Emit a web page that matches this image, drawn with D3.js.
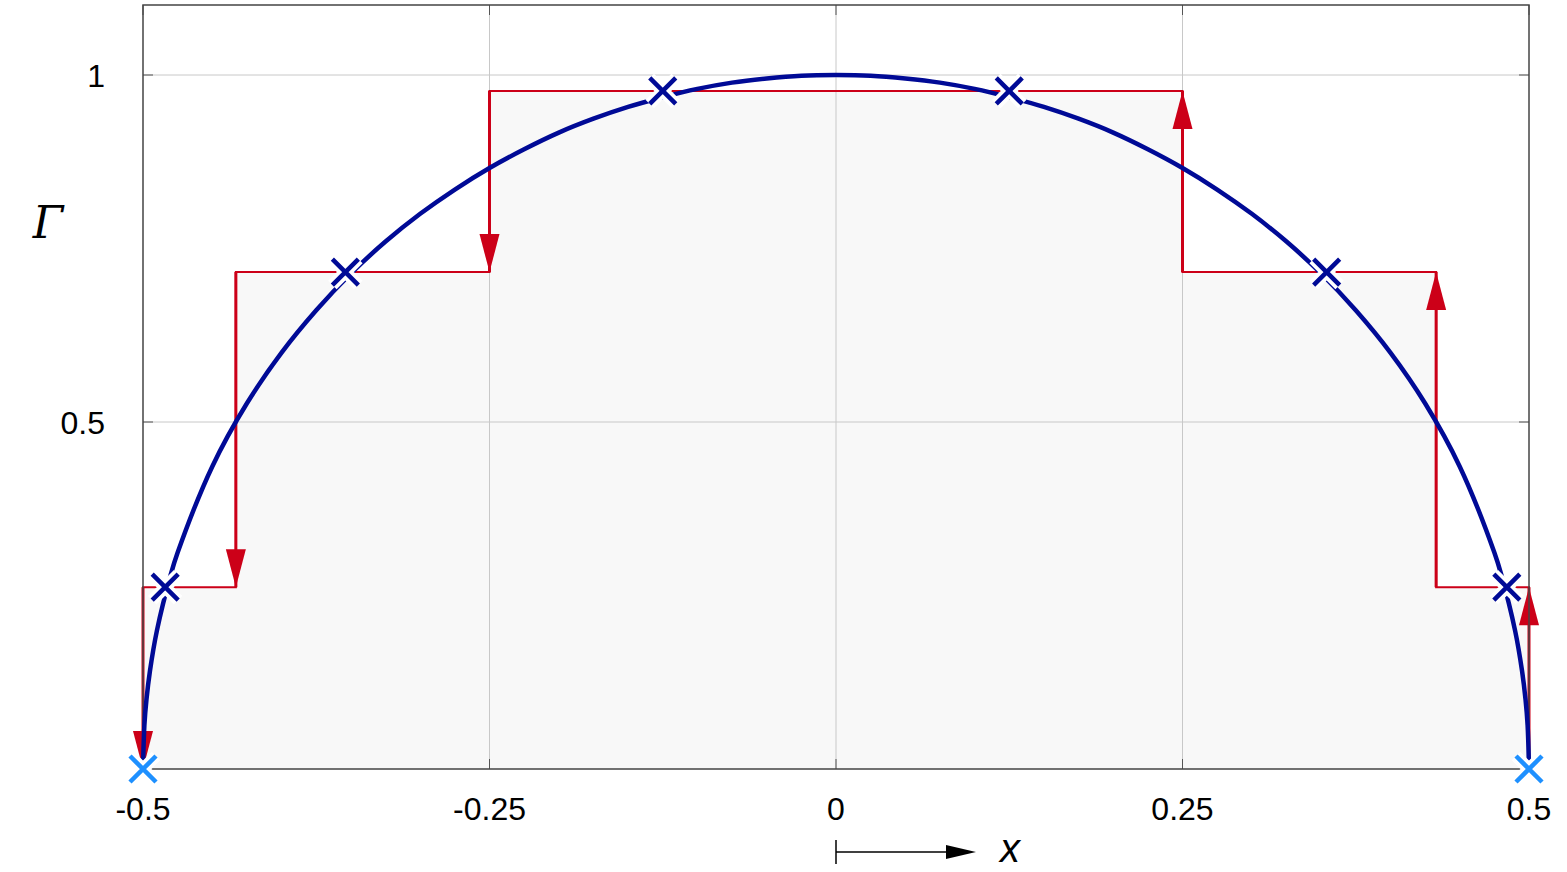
<!DOCTYPE html>
<html><head><meta charset="utf-8">
<script src="https://cdn.jsdelivr.net/npm/d3@7"></script>
<style>body{margin:0;background:#fff}svg{display:block;font-family:Arial,"Liberation Sans",sans-serif}</style>
</head><body><svg id="canvas"></svg>
<script>
// curve samples (right half, mirrored for the left)
let curveX = [0, 0.025, 0.05, 0.075, 0.1, 0.125, 0.15, 0.175, 0.2, 0.225, 0.25, 0.275, 0.3, 0.325, 0.35, 0.375, 0.4, 0.425, 0.45, 0.475, 0.48, 0.49, 0.495, 0.4975, 0.499, 0.5]
let curveG = [1, 0.999, 0.995, 0.989, 0.980, 0.968, 0.954, 0.937, 0.917, 0.893, 0.866, 0.835, 0.8, 0.760, 0.714, 0.661, 0.6, 0.527, 0.436, 0.312, 0.280, 0.199, 0.141, 0.100, 0.063, 0]
// staircase edges and levels
let stepEdges = [-0.5, -0.433, -0.25, 0.25, 0.433, 0.5]
let stepLevels = [0.262, 0.716, 0.977, 0.716, 0.262]
// arrows: x, from, to
let arrows = [[-0.5, 0.262, 0], [-0.433, 0.716, 0.262], [-0.25, 0.977, 0.716],
              [0.25, 0.716, 0.977], [0.433, 0.262, 0.716], [0.5, 0, 0.262]]
let markX = [-0.484, -0.354, -0.125, 0.125, 0.354, 0.484]
let markG = [0.262, 0.716, 0.977, 0.977, 0.716, 0.262]
let endX = [-0.5, 0.5]
let xTicks = [-0.5, -0.25, 0, 0.25, 0.5]
let xTickLabels = ['-0.5', '-0.25', '0', '0.25', '0.5']
let yTicks = [0.5, 1]
let yTickLabels = ['0.5', '1']

let width = 1567, height = 872
let svg = d3.select('#canvas').attr('width', width).attr('height', height)
let x = d3.scaleLinear().domain([-0.5, 0.5]).range([143, 1529])
let y = d3.scaleLinear().domain([0, 1]).range([769, 75])
let plotTop = 5

let pts = curveX.slice().reverse().map((v, i) => [-v, curveG[curveG.length - 1 - i]])
  .concat(curveX.slice(1).map((v, i) => [v, curveG[i + 1]]))

// staircase fill
let stairs = []
stepLevels.forEach((l, i) => { stairs.push([stepEdges[i], l]); stairs.push([stepEdges[i + 1], l]) })
let area = [[-0.5, 0]].concat(stairs).concat([[0.5, 0]])
svg.append('path').attr('d', d3.line().x(d => x(d[0])).y(d => y(d[1]))(area) + 'Z').attr('fill', '#f8f8f8')

// grid
svg.selectAll('.gx').data([-0.25, 0, 0.25]).enter().append('line')
  .attr('x1', d => x(d)).attr('x2', d => x(d)).attr('y1', plotTop).attr('y2', y(0))
  .attr('stroke', '#c8c8c8').attr('stroke-width', 1)
svg.selectAll('.gy').data(yTicks).enter().append('line')
  .attr('x1', x(-0.5)).attr('x2', x(0.5)).attr('y1', d => y(d)).attr('y2', d => y(d))
  .attr('stroke', '#c8c8c8').attr('stroke-width', 1)
// tick marks
xTicks.forEach(t => {
  svg.append('line').attr('x1', x(t)).attr('x2', x(t)).attr('y1', y(0)).attr('y2', y(0) - 10).attr('stroke', '#555')
  svg.append('line').attr('x1', x(t)).attr('x2', x(t)).attr('y1', plotTop).attr('y2', plotTop + 10).attr('stroke', '#555')
})
yTicks.forEach(t => {
  svg.append('line').attr('x1', x(-0.5)).attr('x2', x(-0.5) + 10).attr('y1', y(t)).attr('y2', y(t)).attr('stroke', '#555')
  svg.append('line').attr('x1', x(0.5)).attr('x2', x(0.5) - 10).attr('y1', y(t)).attr('y2', y(t)).attr('stroke', '#555')
})

// red staircase
let red = '#cc0018'
let stairPath = [[-0.5, 0]].concat(stairs).concat([[0.5, 0]])
svg.append('path').attr('d', d3.line().x(d => x(d[0])).y(d => y(d[1]))(stairPath))
  .attr('fill', 'none').attr('stroke', red).attr('stroke-width', 2)
arrows.forEach(a => {
  let x0 = x(a[0]), y1 = y(a[2]), dir = a[2] > a[1] ? 1 : -1
  svg.append('line').attr('x1', x0).attr('x2', x0).attr('y1', y(a[1])).attr('y2', y1)
    .attr('stroke', red).attr('stroke-width', 3)
  svg.append('path').attr('d', `M${x0},${y1}L${x0 - 10},${y1 + dir * 38}L${x0 + 10},${y1 + dir * 38}Z`).attr('fill', red)
})

// frame
svg.append('rect').attr('x', x(-0.5)).attr('y', plotTop).attr('width', x(0.5) - x(-0.5)).attr('height', y(0) - plotTop)
  .attr('fill', 'none').attr('stroke', '#444').attr('stroke-width', 1.5)

// curve
svg.append('path').datum(pts).attr('d', d3.line().x(d => x(d[0])).y(d => y(d[1])).curve(d3.curveCatmullRom))
  .attr('fill', 'none').attr('stroke', '#000a96').attr('stroke-width', 4.5)

// markers
function cross(cx, cy, col) {
  let s = 13
  let p = `M${cx - s},${cy - s}L${cx + s},${cy + s}M${cx - s},${cy + s}L${cx + s},${cy - s}`
  svg.append('path').attr('d', p).attr('stroke', '#fff').attr('stroke-width', 12)
  svg.append('path').attr('d', p).attr('stroke', col).attr('stroke-width', 4.5)
}
markX.forEach((m, i) => cross(x(m), y(markG[i]), '#000a96'))
endX.forEach(m => cross(x(m), y(0), '#1e90ff'))

// labels
svg.selectAll('.xl').data(xTicks).enter().append('text')
  .attr('x', d => x(d)).attr('y', 820).attr('text-anchor', 'middle').attr('font-size', 32).text((d, i) => xTickLabels[i])
svg.selectAll('.yl').data(yTicks).enter().append('text')
  .attr('x', 105).attr('y', d => y(d) + 12).attr('text-anchor', 'end').attr('font-size', 32).text((d, i) => yTickLabels[i])
svg.append('text').attr('x', 48).attr('y', 238).attr('text-anchor', 'middle').attr('font-size', 44)
  .attr('font-style', 'italic').attr('font-family', '"DejaVu Serif",serif').text('Γ')
// x direction arrow
svg.append('line').attr('x1', 836).attr('x2', 950).attr('y1', 852).attr('y2', 852).attr('stroke', '#000').attr('stroke-width', 1.5)
svg.append('line').attr('x1', 836).attr('x2', 836).attr('y1', 840).attr('y2', 864).attr('stroke', '#000').attr('stroke-width', 1.5)
svg.append('path').attr('d', 'M976,852L946,845L946,859Z').attr('fill', '#000')
svg.append('text').attr('x', 1010).attr('y', 862).attr('text-anchor', 'middle').attr('font-size', 40)
  .attr('font-style', 'italic').text('x')
</script></body></html>
